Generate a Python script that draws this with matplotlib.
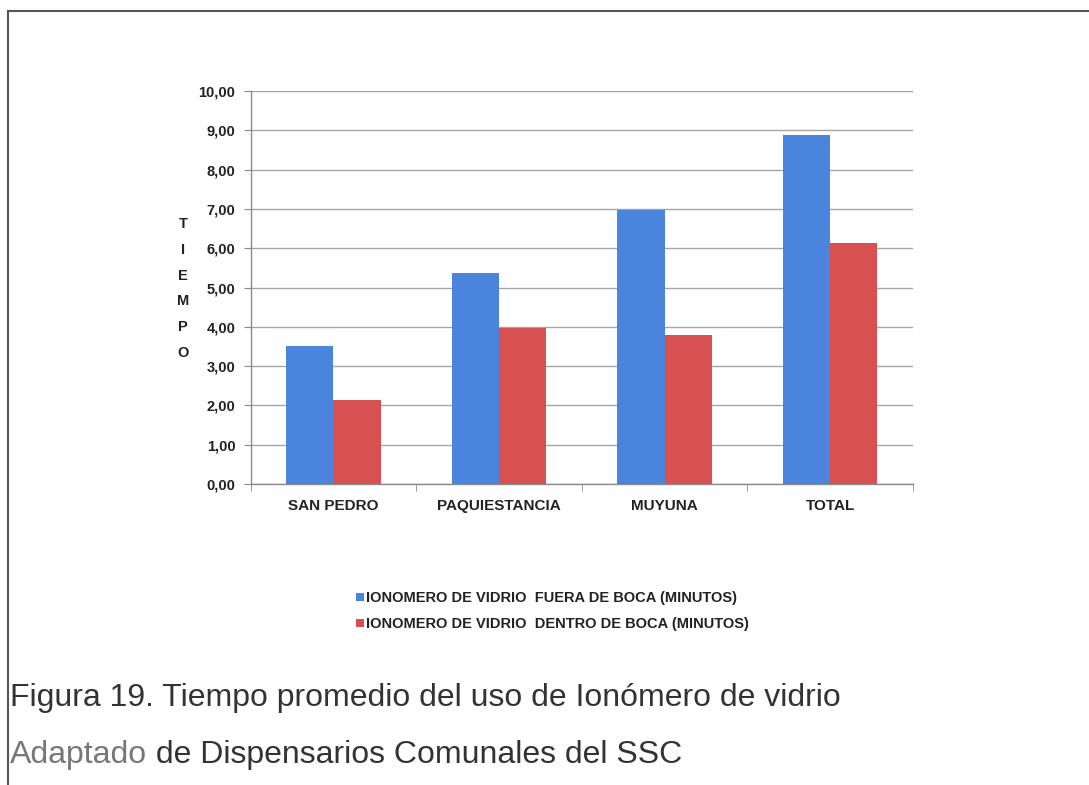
import matplotlib.pyplot as plt
from matplotlib.lines import Line2D
from matplotlib.patches import Patch
import numpy as np

# Tiempo promedio (minutos) por dispensario
categorias = ['SAN PEDRO', 'PAQUIESTANCIA', 'MUYUNA', 'TOTAL']
fuera_boca = [3.50, 5.38, 6.98, 8.89]
dentro_boca = [2.14, 3.97, 3.80, 6.12]
series_labels = ['IONOMERO DE VIDRIO  FUERA DE BOCA (MINUTOS)',
                 'IONOMERO DE VIDRIO  DENTRO DE BOCA (MINUTOS)']
y_ticks = np.arange(0, 11, 1)

plt.rcParams['font.family'] = ['Liberation Sans', 'DejaVu Sans']

W, H = 1089, 785
fig = plt.figure(figsize=(W / 100, H / 100), dpi=100)
fig.patch.set_facecolor('white')

ax = fig.add_axes([250.7 / W, 1 - 484 / H, (913 - 250.7) / W, (484 - 91) / H])

blue = '#4a84dc'
red = '#d8504f'
x = np.arange(len(categorias))
width = 0.285
ax.bar(x - width / 2, fuera_boca, width, color=blue, zorder=3)
ax.bar(x + width / 2, dentro_boca, width, color=red, zorder=3)

ax.set_xlim(-0.5, len(categorias) - 0.5)
ax.set_ylim(0, 10)
ax.set_yticks(y_ticks)
ax.set_yticklabels([f'{v:.2f}'.replace('.', ',') for v in y_ticks],
                   fontsize=10.5, fontweight='bold', color='#222222')
ax.set_xticks(x)
ax.set_xticklabels(categorias, fontsize=11, fontweight='bold', color='#222222')
ax.set_xticks(np.arange(-0.5, len(categorias), 1), minor=True)
ax.tick_params(axis='x', which='major', length=0, pad=11)
ax.tick_params(axis='x', which='minor', length=5, color='#8a8a8a', direction='out')
ax.tick_params(axis='y', length=5, color='#8a8a8a', pad=6)

ax.grid(axis='y', color='#a5a5a5', linewidth=1, zorder=0)
for side in ['top', 'right']:
    ax.spines[side].set_visible(False)
for side in ['left', 'bottom']:
    ax.spines[side].set_color('#8a8a8a')
    ax.spines[side].set_linewidth(1)

# Vertical axis title, one letter per line
for i, letra in enumerate('TIEMPO'):
    fig.text(183 / W, 1 - (224 + i * 25.8) / H, letra, ha='center', va='center',
             fontsize=10.5, fontweight='bold', color='#222222')

handles = [Patch(facecolor=blue), Patch(facecolor=red)]
fig.legend(handles, series_labels, loc='center left',
           bbox_to_anchor=(349 / W, 1 - 611 / H), frameon=False,
           handlelength=0.5, handleheight=0.5, handletextpad=0.2,
           labelspacing=0.8, borderpad=0,
           prop={'size': 10.5, 'weight': 'bold'}, labelcolor='#222222')

# Page frame lines
fig.add_artist(Line2D([8 / W, 1], [1 - 11 / H, 1 - 11 / H], transform=fig.transFigure,
                      color='#555555', linewidth=1.5))
fig.add_artist(Line2D([8 / W, 8 / W], [1 - 11 / H, 0], transform=fig.transFigure,
                      color='#555555', linewidth=1.5))

# Caption
cap_size = 23
fig.text(10 / W, 1 - 706 / H, 'Figura 19. Tiempo promedio del uso de Ionómero de vidrio',
         ha='left', va='baseline', fontsize=cap_size, color='#333333')
t1 = fig.text(10 / W, 1 - 763 / H, 'Adaptado', ha='left', va='baseline',
              fontsize=cap_size, color='#777777')
renderer = fig.canvas.get_renderer()
bb = t1.get_window_extent(renderer=renderer)
fig.text(bb.x1 / W, 1 - 763 / H, ' de Dispensarios Comunales del SSC', ha='left',
         va='baseline', fontsize=cap_size, color='#333333')

fig.savefig('out.png', dpi=100)
